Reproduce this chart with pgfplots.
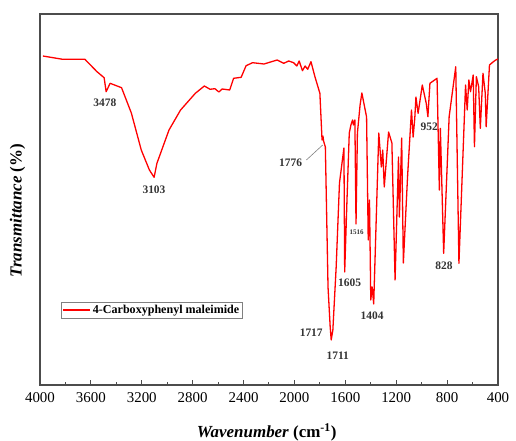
\documentclass[border=0pt]{standalone}
\usepackage{fontspec}
\setmainfont{Liberation Serif}
\usepackage{pgfplots}
\pgfplotsset{compat=1.18}
\tikzset{lab/.style={font=\bfseries\fontsize{11.5}{12}\selectfont, text=black!80, inner sep=0pt}}
\begin{document}
\begin{tikzpicture}
\useasboundingbox (-40bp,-56bp) rectangle (476bp,385bp);
\begin{axis}[
 at={(0,0)}, anchor=south west,
 scale only axis, width=458bp, height=371bp,
 xmin=400, xmax=4000, ymin=0, ymax=371, x dir=reverse,
 xtick={400,800,...,4000}, minor xtick={600,1000,...,3800},
 ytick=\empty, xtick pos=bottom, tick align=inside,
 major tick length=5bp, minor tick length=3bp,
 axis line style={draw=black!70, line width=1.2bp},
 every tick/.style={black!70, line width=1bp},
 /pgf/number format/assume math mode=true,
 /pgf/number format/1000 sep={},
 xticklabel style={font=\fontsize{15}{15}\selectfont, yshift=-4bp},
 xlabel={\textbf{\textit{Wavenumber}} \textbf{(cm\textsuperscript{-1})}},
 ylabel={\textbf{\textit{Transmittance}} \textbf{(\%)}},
 xlabel style={font=\fontsize{17}{17}\selectfont, at={(axis description cs:0.495,-0.127)}, anchor=center},
 ylabel style={font=\fontsize{17}{17}\selectfont, at={(axis description cs:-0.049,0.47)}, anchor=center},
 legend style={at={(axis description cs:0.045,0.178)}, anchor=south west, draw=black!50, line width=0.6bp,
   font=\bfseries\fontsize{12.1}{12.5}\selectfont, inner sep=1.5bp},
 legend image code/.code={\draw[#1, line width=1.5bp] (0bp,0bp) -- (27bp,0bp);},
 legend cell align=left,
]
\addplot[red, line width=1.3bp, line join=round] table {
3977 329
3822 325.7
3647 325.7
3552 313.3
3496 307.3
3480 293.3
3449 301.7
3359 297.3
3282 272
3204 235
3140 215
3103 207.7
3081 221.7
2986 255
2895 275
2779 291.7
2708 299
2663 295.7
2625 296.3
2594 293
2568 296
2509 295
2478 306.7
2419 307.7
2380 319.3
2329 322.3
2239 321
2136 325
2084 321.7
2045 324
2007 322.3
1981 319
1963 324
1937 314.3
1916 319
1896 315.7
1870 323.3
1839 308.3
1800 291.7
1783 245
1776 249
1771 244
1757 238
1736 98
1719 58
1711 45
1698 55
1672 118
1646 202
1620 228
1611 237
1605 113
1587 185
1569 252
1556 260
1543 265
1536 260
1525 265
1516 161
1505 252
1484 280
1470 292
1433 268
1420 145
1410 185
1400 85
1389 98
1377 81
1337 252
1317 218
1306 235
1294 198
1260 253
1234 242
1209 105
1182 228
1175 168
1157 247
1144 122
1111 208
1080 275
1067 248
1054 267
1045 288
1028 271.7
995 300
964 281.7
951 268.3
935 301.7
879 306.7
861 195
853 256.7
827 131.7
784 268.3
732 318.3
707 121.7
655 300
642 275
629 305
616 293.3
595 310
585 238.3
570 308.3
552 298.3
539 256.7
518 311.7
500 291.7
493 258.3
467 320
436 323.3
418 325
400 326
};
\addlegendentry{4-Carboxyphenyl maleimide}
\node[lab] at (axis cs:3490,282) {3478};
\node[lab] at (axis cs:3104,195) {3103};
\node[lab] at (axis cs:2030,222) {1776};
\draw[gray, line width=0.6bp] (axis cs:1906,225) -- (axis cs:1778,240);
\node[lab] at (axis cs:1868,52) {1717};
\node[lab] at (axis cs:1659,29) {1711};
\node[lab] at (axis cs:1566,102) {1605};
\node[lab, font=\bfseries\fontsize{7}{8}\selectfont] at (axis cs:1512,153) {1516};
\node[lab] at (axis cs:1389,69) {1404};
\node[lab] at (axis cs:941,258) {952};
\node[lab] at (axis cs:825,119) {828};
\end{axis}
\end{tikzpicture}
\end{document}
